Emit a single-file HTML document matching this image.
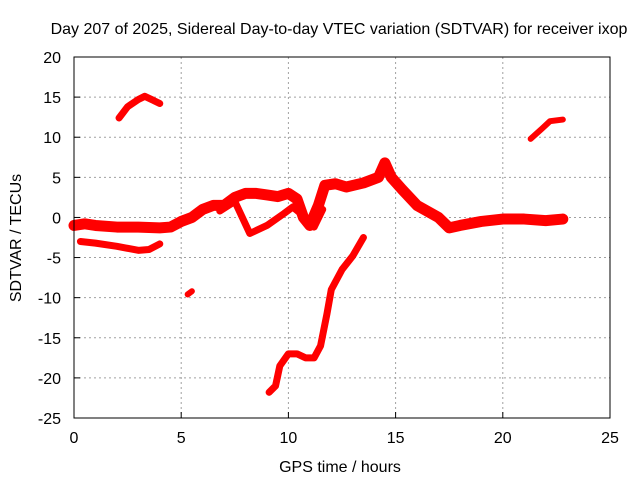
<!DOCTYPE html>
<html><head><meta charset="utf-8"><style>
body{margin:0;background:#fff}
svg text{font-family:"Liberation Sans",sans-serif;font-size:16px;fill:#000}
</style></head><body>
<svg id="chart" width="640" height="480">
<text x="339" y="34" text-anchor="middle">Day 207 of 2025, Sidereal Day-to-day VTEC variation (SDTVAR) for receiver ixop</text>
<g id="grid"></g><g id="ticks"></g><g id="series"></g>
<rect x="74" y="57" width="536" height="361" fill="none" stroke="#000" stroke-width="1"/>
<text x="340" y="472" text-anchor="middle">GPS time / hours</text>
<text transform="translate(21,238) rotate(-90)" text-anchor="middle">SDTVAR / TECUs</text>
</svg>
<script>
const xTicks=[0,5,10,15,20,25];
const yTicks=[20,15,10,5,0,-5,-10,-15,-20,-25];
const trackMainX=[0,0.5,1,2,3,4,4.5,5,5.5,6,6.5,7,7.5,8,8.5,9,9.5,10,10.4,10.7,11,11.4,11.7,12.2,12.7,13.5,14.2,14.5,14.8,15.3,16,17,17.5,18,19,20,21,22,22.8];
const trackMainY=[-1,-0.8,-1,-1.2,-1.2,-1.3,-1.2,-0.5,0,1,1.5,1.5,2.5,3,3,2.8,2.6,3,2.3,0,-1,1.5,4,4.2,3.8,4.3,5,6.8,5,3.5,1.5,0,-1.3,-1,-0.5,-0.2,-0.2,-0.4,-0.2];
const trackBranchX=[6.8,7.5,8.2,9,9.8,10.2,10.8,11.2,11.6];
const trackBranchY=[0.8,2,-2,-1,0.5,1.3,0,-1.2,1];
const trackLowX=[0.3,1,2,3,3.5,4];
const trackLowY=[-3,-3.2,-3.6,-4.1,-4,-3.3];
const trackArcX=[2.1,2.5,3,3.3,3.7,4];
const trackArcY=[12.4,13.8,14.7,15.1,14.6,14.2];
const trackRightX=[21.3,21.8,22.2,22.8];
const trackRightY=[9.8,11,12,12.2];
const trackDotX=[5.3,5.5];
const trackDotY=[-9.6,-9.2];
const trackDeepX=[9.1,9.4,9.6,10,10.4,10.8,11.2,11.5,11.8,12,12.5,13,13.5];
const trackDeepY=[-21.8,-21,-18.5,-17,-17,-17.5,-17.5,-16,-12,-9,-6.5,-4.8,-2.5];
const sx=v=>74+v*(536/25);
const sy=v=>57+(20-v)*(361/45);
const NS="http://www.w3.org/2000/svg";
const grid=document.getElementById('grid'),ticks=document.getElementById('ticks'),ser=document.getElementById('series');
function mk(tag,attrs,parent){const e=document.createElementNS(NS,tag);for(const k in attrs)e.setAttribute(k,attrs[k]);parent.appendChild(e);return e;}
xTicks.forEach(t=>{const x=sx(t);
 if(t>0&&t<25){const l=mk('line',{x1:x,y1:57,x2:x,y2:418,stroke:'#a0a0a0','stroke-dasharray':'2,3'},grid);
 
 }
 const tk=mk('line',{x1:x,y1:418,x2:x,y2:412,stroke:'#000'},ticks);
 
 
 const tx=mk('text',{x:x,y:443,'text-anchor':'middle'},ticks);tx.textContent=t;
 
 });
yTicks.forEach(t=>{const y=sy(t);
 if(t<20&&t>-25){const l=mk('line',{x1:74,y1:y,x2:610,y2:y,stroke:'#a0a0a0','stroke-dasharray':'2,3'},grid);
 
 }
 const tk=mk('line',{x1:74,y1:y,x2:80,y2:y,stroke:'#000'},ticks);
 
 
 const tx=mk('text',{x:61,y:y+6,'text-anchor':'end'},ticks);tx.textContent=t;
 
 });
function track(xs,ys,w,name){const pts=xs.map((x,i)=>sx(x)+','+sy(ys[i])).join(' ');
 const p=mk('polyline',{points:pts,fill:'none',stroke:'#ff0000','stroke-width':w,'stroke-linejoin':'round','stroke-linecap':'round'},ser);
 
 }
track(trackMainX,trackMainY,11,'series-main-track');
track(trackBranchX,trackBranchY,7,'series-branch-track');
track(trackLowX,trackLowY,7,'series-low-track');
track(trackArcX,trackArcY,7,'series-arc-track');
track(trackRightX,trackRightY,6,'series-right-track');
track(trackDotX,trackDotY,6,'series-dot-track');
track(trackDeepX,trackDeepY,7,'series-deep-track');
</script>
</body></html>
